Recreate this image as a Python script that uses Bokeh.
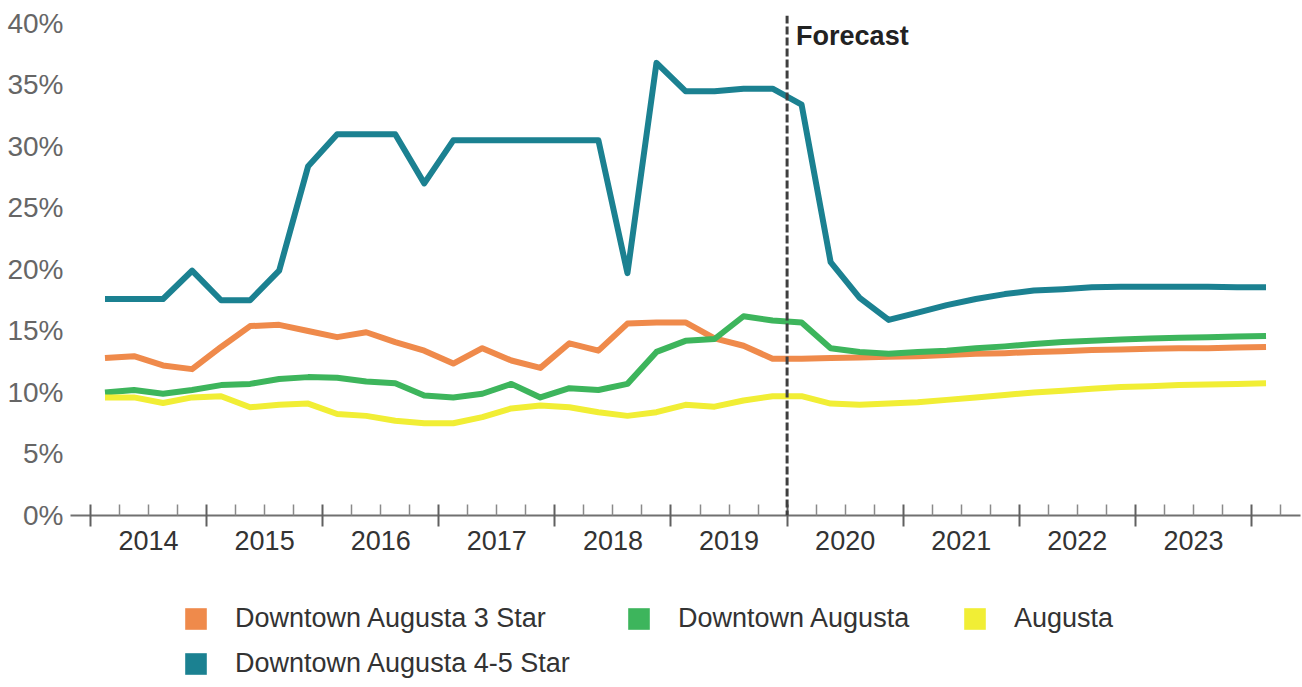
from bokeh.plotting import figure
from bokeh.layouts import column
from bokeh.models import (LinearAxis, FixedTicker, Span, Label, Legend, LegendItem,
                          CustomJSTickFormatter, ColumnDataSource)
from bokeh.embed import file_html
from bokeh.resources import INLINE

# ---------------- data ----------------
periods = [f"{y}Q{q}" for y in range(2014, 2025) for q in range(1, 5)][:41]
year_labels = list(range(2014, 2024))
year_bounds = list(range(2014, 2025))
forecast_start = 2020

star45 = [17.6, 17.6, 17.6, 19.9, 17.5, 17.5, 19.9, 28.4, 31.0, 31.0, 31.0, 27.0,
          30.5, 30.5, 30.5, 30.5, 30.5, 30.5, 19.7, 36.8, 34.5, 34.5, 34.7, 34.7,
          33.4, 20.6, 17.7, 15.9, 16.5, 17.1, 17.6, 18.0, 18.3, 18.4, 18.55, 18.6,
          18.6, 18.6, 18.6, 18.55, 18.55]
star3 = [12.8, 12.95, 12.2, 11.9, 13.7, 15.4, 15.5, 15.0, 14.5, 14.9, 14.1, 13.4,
         12.35, 13.6, 12.6, 12.0, 14.0, 13.4, 15.6, 15.7, 15.7, 14.4, 13.8, 12.75,
         12.75, 12.8, 12.85, 12.9, 12.95, 13.05, 13.15, 13.2, 13.3, 13.35, 13.45, 13.5,
         13.55, 13.6, 13.6, 13.65, 13.7]
downtown = [10.0, 10.2, 9.9, 10.2, 10.6, 10.7, 11.1, 11.25, 11.2, 10.9, 10.75, 9.75,
            9.6, 9.9, 10.7, 9.6, 10.35, 10.2, 10.7, 13.3, 14.2, 14.35, 16.2, 15.85,
            15.7, 13.6, 13.3, 13.15, 13.3, 13.4, 13.6, 13.75, 13.95, 14.1, 14.2, 14.3,
            14.4, 14.45, 14.5, 14.55, 14.6]
augusta = [9.6, 9.6, 9.15, 9.6, 9.7, 8.8, 9.0, 9.1, 8.25, 8.1, 7.7, 7.5,
           7.5, 8.0, 8.7, 8.95, 8.8, 8.4, 8.1, 8.4, 9.0, 8.85, 9.35, 9.7,
           9.7, 9.1, 9.0, 9.1, 9.2, 9.4, 9.6, 9.8, 10.0, 10.15, 10.3, 10.45,
           10.5, 10.6, 10.65, 10.7, 10.75]

series_names = ["Downtown Augusta 3 Star", "Downtown Augusta", "Augusta",
                "Downtown Augusta 4-5 Star"]
colors = {"Downtown Augusta 4-5 Star": "#1b8191",
          "Downtown Augusta 3 Star": "#ef8a4b",
          "Downtown Augusta": "#3db55c",
          "Augusta": "#f1ee35"}
y_ticks = [0, 5, 10, 15, 20, 25, 30, 35, 40]

# x position of each quarter: its midpoint
x = [int(p[:4]) + (int(p[-1]) - 0.5) / 4 for p in periods]
src = ColumnDataSource(dict(x=x, star45=star45, star3=star3, downtown=downtown, augusta=augusta))

FONT = "Liberation Sans"
MAIN_H = 570
LEG_H = 687 - MAIN_H

p = figure(width=1302, height=MAIN_H, x_range=(2013.828, 2024.422), y_range=(0, 40.65),
           output_backend="svg", toolbar_location=None, x_axis_location=None,
           min_border_left=70, min_border_right=2, min_border_top=15,
           min_border_bottom=MAIN_H - 515)
p.outline_line_color = None
p.grid.visible = False

# y axis
p.yaxis.ticker = FixedTicker(ticks=y_ticks)
p.yaxis.formatter = CustomJSTickFormatter(code="return tick + '%'")
p.yaxis.axis_line_color = None
p.yaxis.major_tick_line_color = None
p.yaxis.minor_tick_line_color = None
p.yaxis.major_tick_in = 0
p.yaxis.major_tick_out = 0
p.yaxis.minor_tick_in = 0
p.yaxis.minor_tick_out = 0
p.yaxis.major_label_text_font = FONT
p.yaxis.major_label_text_font_size = "28px"
p.yaxis.major_label_text_color = "#666666"
p.yaxis.major_label_standoff = 7

# x axis with ticks (year boundaries crossing the line, quarter ticks inside)
minor = [y + q / 4 for y in range(2014, 2025) for q in range(1, 4)]
axA = LinearAxis(ticker=FixedTicker(ticks=year_bounds, minor_ticks=minor),
                 axis_line_color="#707070", axis_line_width=2,
                 major_tick_in=11, major_tick_out=11, major_tick_line_color="#606060",
                 major_tick_line_width=2,
                 minor_tick_in=11, minor_tick_out=0, minor_tick_line_color="#8a8a8a",
                 minor_tick_line_width=1.5,
                 major_label_text_font_size="1px", major_label_text_color=None,
                 major_label_text_alpha=0, major_label_standoff=0)
p.add_layout(axA, "below")

# x axis with year labels centred in each year
axB = LinearAxis(ticker=FixedTicker(ticks=[y + 0.5 for y in year_labels], minor_ticks=[]),
                 formatter=CustomJSTickFormatter(code="return Math.floor(tick).toString()"),
                 axis_line_color=None, major_tick_line_color=None, minor_tick_line_color=None,
                 major_tick_in=0, major_tick_out=0, minor_tick_in=0, minor_tick_out=0,
                 major_label_text_font=FONT, major_label_text_font_size="27px",
                 major_label_text_color="#333333", major_label_standoff=4)
p.add_layout(axB, "below")

# lines
lw = 6
p.line("x", "star45", source=src, line_color=colors["Downtown Augusta 4-5 Star"], line_width=lw, line_join="round")
p.line("x", "star3", source=src, line_color=colors["Downtown Augusta 3 Star"], line_width=lw, line_join="round")
p.line("x", "downtown", source=src, line_color=colors["Downtown Augusta"], line_width=lw, line_join="round")
p.line("x", "augusta", source=src, line_color=colors["Augusta"], line_width=lw, line_join="round")

# forecast marker
p.add_layout(Span(location=forecast_start, dimension="height", line_color="#3f3f3f",
                  line_width=3, line_dash="8 3"))
p.add_layout(Label(x=forecast_start, y=40, x_offset=9, y_offset=2, text="Forecast",
                   text_font=FONT, text_font_style="bold", text_font_size="27px",
                   text_color="#222222", text_baseline="top"))

# ---------------- legend figure ----------------
lf = figure(width=1302, height=LEG_H, x_range=(0, 1302), y_range=(0, LEG_H),
            output_backend="svg", toolbar_location=None,
            x_axis_location=None, y_axis_location=None, min_border=0)
lf.outline_line_color = None
lf.grid.visible = False

# legend positions (screen px, relative to the legend frame which is aligned with the plot frame)
legend_pos = {"Downtown Augusta 3 Star": (112, 53),
              "Downtown Augusta": (555, 53),
              "Augusta": (891, 53),
              "Downtown Augusta 4-5 Star": (112, 8)}
for name in series_names:
    # swatch renderer (its single square lies outside the visible range)
    r = lf.quad(left=[-20], right=[-10], top=[-10], bottom=[-20],
                fill_color=colors[name], line_color=None)
    lg = Legend(items=[LegendItem(label=name, renderers=[r])], location=legend_pos[name],
                padding=0, margin=0, spacing=0, glyph_width=27, glyph_height=27,
                label_height=27, label_standoff=26, label_text_font=FONT,
                label_text_font_size="27px", label_text_color="#333333",
                border_line_color=None, background_fill_alpha=0)
    lf.add_layout(lg, "center")

open("out.html", "w").write(file_html(column(p, lf, spacing=0), INLINE))
